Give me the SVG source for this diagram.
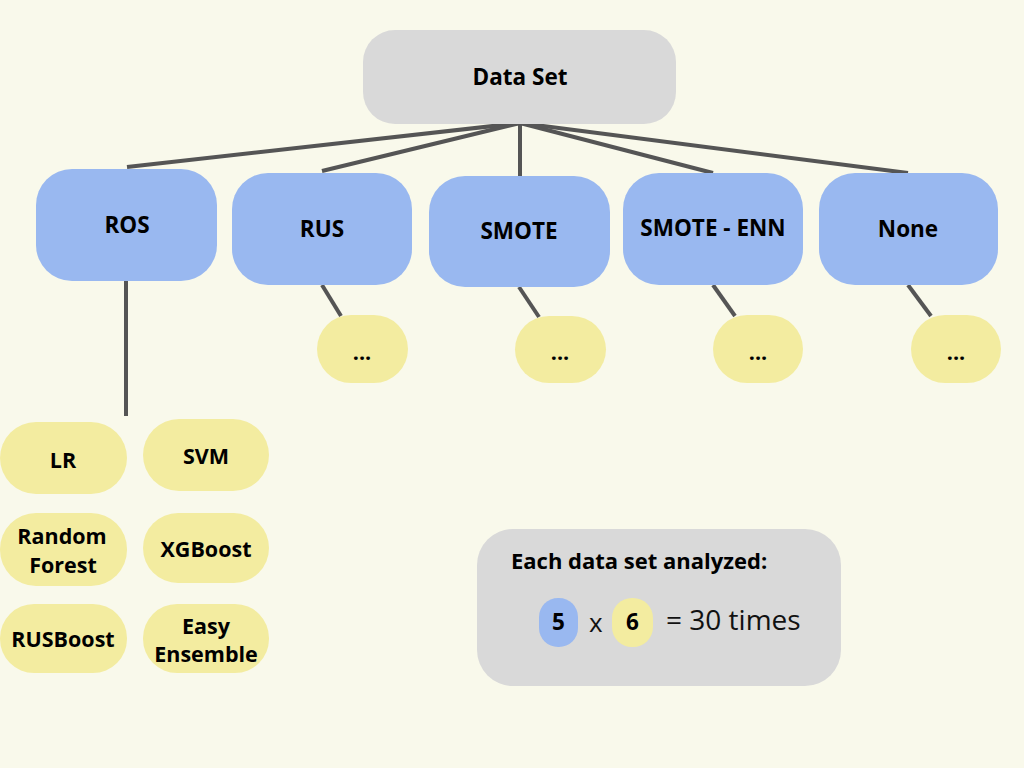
<svg xmlns="http://www.w3.org/2000/svg" width="1024" height="768" viewBox="0 0 1024 768">
<style>
.bg{fill:#f9f9eb}
.gray{fill:#d9d9d9}
.blue{fill:#99b8f0}
.yel{fill:#f3eca0}
.lbl{font-family:"Open Sans","Liberation Sans",sans-serif;font-weight:bold;font-size:21.5px;fill:#000;text-anchor:middle}
.big{font-size:22.5px}
.reg{font-family:"Open Sans","Liberation Sans",sans-serif;font-weight:normal;fill:#111}
.conn line{stroke:#555;stroke-width:4;stroke-linecap:butt}
</style>
<rect class="bg" x="0" y="0" width="1024" height="768"/>
<g class="conn" id="connectors">
<line x1="520" y1="123" x2="127" y2="167"/>
<line x1="520" y1="123" x2="322" y2="171"/>
<line x1="520" y1="123" x2="520" y2="176"/>
<line x1="520" y1="123" x2="713" y2="173"/>
<line x1="520" y1="123" x2="908" y2="173"/>
<line x1="126" y1="281" x2="126" y2="416"/>
<line x1="322" y1="285" x2="341" y2="316"/>
<line x1="519" y1="287" x2="539" y2="317"/>
<line x1="713" y1="285" x2="735" y2="316"/>
<line x1="908" y1="285" x2="931" y2="316"/>
</g>
<g id="dataset"><rect class="gray" x="363" y="30" width="313" height="94" rx="32"/><text class="lbl big" x="520" y="85">Data Set</text></g>
<g id="ros"><rect class="blue" x="36" y="169" width="181" height="112" rx="36"/><text class="lbl big" x="127" y="233">ROS</text></g>
<g id="rus"><rect class="blue" x="232" y="173" width="180" height="112" rx="36"/><text class="lbl big" x="322" y="237">RUS</text></g>
<g id="smote"><rect class="blue" x="429" y="176" width="181" height="111" rx="36"/><text class="lbl big" x="519" y="239">SMOTE</text></g>
<g id="smoteenn"><rect class="blue" x="623" y="173" width="180" height="112" rx="36"/><text class="lbl big" x="713" y="236">SMOTE - ENN</text></g>
<g id="none"><rect class="blue" x="819" y="173" width="179" height="112" rx="36"/><text class="lbl big" x="908" y="237">None</text></g>
<g id="rus-more"><rect class="yel" x="317" y="315" width="91" height="68" rx="34"/><text class="lbl" x="362" y="360">...</text></g>
<g id="smote-more"><rect class="yel" x="515" y="316" width="91" height="67" rx="34"/><text class="lbl" x="560" y="360">...</text></g>
<g id="smoteenn-more"><rect class="yel" x="713" y="315" width="90" height="68" rx="34"/><text class="lbl" x="758" y="360">...</text></g>
<g id="none-more"><rect class="yel" x="911" y="315" width="90" height="68" rx="34"/><text class="lbl" x="956" y="360">...</text></g>
<g id="lr"><rect class="yel" x="0" y="422" width="127" height="72" rx="36"/><text class="lbl" x="63" y="468">LR</text></g>
<g id="svm"><rect class="yel" x="143" y="419" width="126" height="72" rx="36"/><text class="lbl" x="206" y="464">SVM</text></g>
<g id="rf"><rect class="yel" x="0" y="513" width="127" height="73" rx="36"/><text class="lbl" x="62" y="544">Random</text><text class="lbl" x="63" y="573">Forest</text></g>
<g id="xgb"><rect class="yel" x="143" y="513" width="126" height="70" rx="35"/><text class="lbl" x="206" y="557">XGBoost</text></g>
<g id="rusboost"><rect class="yel" x="0" y="604" width="127" height="69" rx="34"/><text class="lbl" x="63" y="647">RUSBoost</text></g>
<g id="easy"><rect class="yel" x="143" y="604" width="126" height="69" rx="34"/><text class="lbl" x="206" y="634">Easy</text><text class="lbl" x="206" y="662">Ensemble</text></g>
<g id="summary">
<rect class="gray" x="477" y="529" width="364" height="157" rx="36"/>
<text class="lbl" x="511" y="569" style="text-anchor:start;font-size:22px">Each data set analyzed:</text>
<rect class="blue" x="539" y="598" width="39" height="49" rx="19"/>
<text class="lbl big" x="558.5" y="630">5</text>
<text class="reg" x="589" y="632" font-size="26">x</text>
<rect class="yel" x="612" y="598" width="41" height="49" rx="20"/>
<text class="lbl big" x="632.5" y="630">6</text>
<text class="reg" x="666" y="630" font-size="28">= 30 times</text>
</g>
</svg>
